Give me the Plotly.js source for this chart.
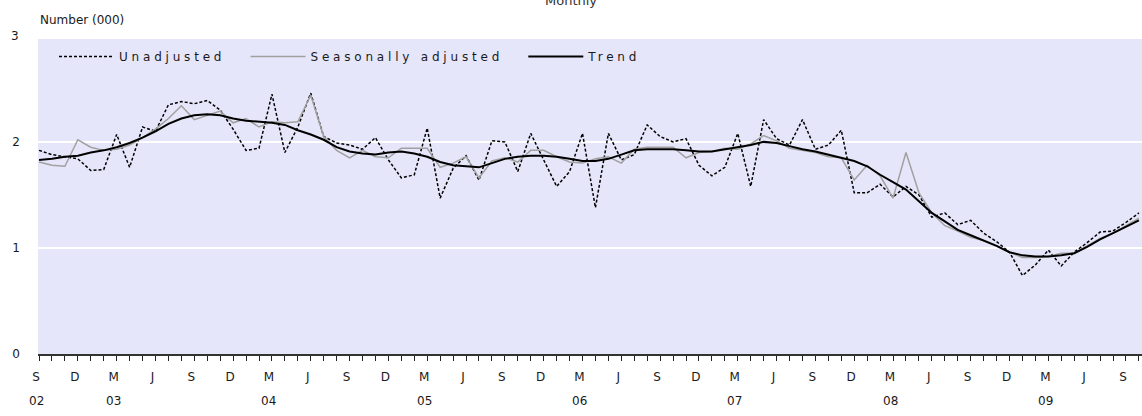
<!DOCTYPE html>
<html>
<head>
<meta charset="utf-8">
<script src="https://cdn.plot.ly/plotly-3.0.1.min.js"></script>
<style>
  html, body { margin: 0; padding: 0; background: #fff; }
  #chart { width: 1142px; height: 416px; }
  .legendtext { letter-spacing: 3.8px; }
</style>
</head>
<body>
<div id="chart"></div>
<script>
// Categories: monthly, Sep 2002 .. Oct 2009
const firstYear = 2002, firstMonth = 9, monthCount = 86;
const months = [];
for (let k = 0; k < monthCount; k++) {
  const m0 = firstMonth - 1 + k;
  const y = firstYear + Math.floor(m0 / 12);
  const m = (m0 % 12) + 1;
  months.push(y + '-' + String(m).padStart(2, '0'));
}

// Series (number, thousands)
const unadjusted = [
  1.92, 1.88, 1.86, 1.84, 1.73, 1.74, 2.07, 1.76, 2.14, 2.10,
  2.35, 2.38, 2.36, 2.39, 2.30, 2.12, 1.92, 1.94, 2.45, 1.90,
  2.14, 2.46, 2.05, 1.99, 1.97, 1.93, 2.04, 1.83, 1.66, 1.69,
  2.13, 1.47, 1.75, 1.87, 1.64, 2.01, 2.00, 1.72, 2.08, 1.83,
  1.58, 1.72, 2.08, 1.38, 2.08, 1.83, 1.88, 2.16, 2.05, 2.00,
  2.03, 1.78, 1.68, 1.76, 2.08, 1.58, 2.21, 2.03, 1.97, 2.21,
  1.93, 1.97, 2.11, 1.52, 1.52, 1.60, 1.48, 1.58, 1.50, 1.29,
  1.33, 1.22, 1.26, 1.14, 1.06, 0.96, 0.74, 0.84, 0.98, 0.83,
  0.96, 1.05, 1.15, 1.16, 1.24, 1.33
];
const seasonallyAdjusted = [
  1.81, 1.78, 1.77, 2.02, 1.95, 1.92, 1.93, 1.97, 2.04, 2.12,
  2.22, 2.34, 2.21, 2.25, 2.29, 2.18, 2.22, 2.14, 2.19, 2.18,
  2.19, 2.44, 2.05, 1.92, 1.85, 1.92, 1.86, 1.85, 1.94, 1.94,
  1.94, 1.76, 1.80, 1.86, 1.66, 1.82, 1.85, 1.81, 1.92, 1.92,
  1.86, 1.81, 1.80, 1.84, 1.86, 1.80, 1.93, 1.95, 1.95, 1.95,
  1.85, 1.90, 1.91, 1.94, 1.93, 1.98, 2.06, 2.01, 1.94, 1.92,
  1.90, 1.86, 1.85, 1.64, 1.78, 1.68, 1.47, 1.90, 1.52, 1.33,
  1.21, 1.16, 1.10, 1.07, 1.02, 0.96, 0.91, 0.91, 0.92, 0.95,
  0.95, 1.02, 1.09, 1.14, 1.21, 1.28
];
const trend = [
  1.83, 1.84, 1.86, 1.87, 1.90, 1.92, 1.95, 1.99, 2.04, 2.10,
  2.17, 2.22, 2.25, 2.26, 2.25, 2.22, 2.20, 2.19, 2.18, 2.16,
  2.11, 2.07, 2.02, 1.95, 1.91, 1.89, 1.88, 1.90, 1.91, 1.89,
  1.86, 1.81, 1.78, 1.77, 1.76, 1.80, 1.84, 1.86, 1.87, 1.87,
  1.86, 1.84, 1.82, 1.82, 1.84, 1.88, 1.92, 1.93, 1.93, 1.93,
  1.92, 1.91, 1.91, 1.93, 1.95, 1.97, 2.00, 1.99, 1.96, 1.93,
  1.91, 1.88, 1.85, 1.82, 1.77, 1.69, 1.62, 1.55, 1.44, 1.33,
  1.25, 1.17, 1.12, 1.07, 1.02, 0.96, 0.93, 0.92, 0.92, 0.93,
  0.95, 1.01, 1.08, 1.14, 1.20, 1.26
];

// Tick labels
const monthLetters = { '09': 'S', '12': 'D', '03': 'M', '06': 'J' };
const yearLabelMonths = ['2002-09', '2003-03', '2004-03', '2005-03', '2006-03', '2007-03', '2008-03', '2009-03'];
const yearLabels = ['02', '03', '04', '05', '06', '07', '08', '09'];
const yTickVals = [0, 1, 2];
const yTickText = ['0', '1', '2'];
const yTopLabel = '3';
const seriesNames = ['Unadjusted', 'Seasonally adjusted', 'Trend'];

const tickText = months.map(m => monthLetters[m.slice(5)] || '');

const FONT = 'DejaVu Sans, Liberation Sans, sans-serif';
const TXT = '#1a1a1a';
const PAD = '\u00a0\u00a0';
const Y_MAX = 2.97;

const traces = [
  { x: months, y: unadjusted, name: seriesNames[0] + PAD, type: 'scatter', mode: 'lines',
    line: { color: '#000000', width: 1.5, dash: '3px,2px' } },
  { x: months, y: seasonallyAdjusted, name: seriesNames[1] + PAD, type: 'scatter', mode: 'lines',
    line: { color: '#a0a0a0', width: 1.5 } },
  { x: months, y: trend, name: seriesNames[2], type: 'scatter', mode: 'lines',
    line: { color: '#000000', width: 2 } }
];

const annotations = yearLabelMonths.map((m, k) => ({
  x: m, xref: 'x', y: 0, yref: 'paper', text: yearLabels[k], showarrow: false,
  xanchor: 'center', yanchor: 'middle', yshift: -47, xshift: -3,
  font: { family: FONT, size: 12, color: TXT }
}));
annotations.push({
  x: 0, xref: 'paper', y: 1, yref: 'paper', text: 'Number (000)', showarrow: false,
  xanchor: 'left', yanchor: 'middle', xshift: 0, yshift: 19,
  font: { family: FONT, size: 12, color: TXT }
});
annotations.push({
  x: 0, xref: 'paper', y: 3 / Y_MAX, yref: 'paper', text: yTopLabel, showarrow: false,
  xanchor: 'center', yanchor: 'middle', xshift: -23,
  font: { family: FONT, size: 12, color: TXT }
});

const layout = {
  width: 1142, height: 416,
  margin: { l: 38, r: 0, t: 39, b: 62, pad: 0 },
  paper_bgcolor: '#ffffff',
  plot_bgcolor: '#e6e6fa',
  title: { text: 'Monthly', x: 0.5, xref: 'container', xanchor: 'center', y: 1.0, yref: 'container', yanchor: 'middle',
           font: { family: FONT, size: 13, color: '#333' } },
  showlegend: true,
  legend: { orientation: 'h', x: 16 / 1104, xanchor: 'left', y: 1 - 3 / 315, yanchor: 'top', bgcolor: 'rgba(0,0,0,0)',
            font: { family: FONT, size: 12, color: TXT }, itemwidth: 55, traceorder: 'normal' },
  xaxis: {
    type: 'category', range: [-0.08, 85.24], tickmode: 'array', tickvals: months, ticktext: tickText,
    ticks: 'outside', ticklen: 5, tickwidth: 1, tickcolor: '#222', showline: true, linecolor: '#333', linewidth: 1.5,
    showgrid: false, zeroline: false, tickangle: 0, ticklabelstandoff: 6, ticklabelshift: -3,
    tickfont: { family: FONT, size: 12, color: TXT }, fixedrange: true
  },
  yaxis: {
    range: [0, Y_MAX], tickmode: 'array', tickvals: yTickVals, ticktext: yTickText,
    showgrid: true, gridcolor: '#ffffff', gridwidth: 2, zeroline: false, showline: false, ticks: '',
    ticklabelstandoff: 17, tickfont: { family: FONT, size: 12, color: TXT }, fixedrange: true
  },
  annotations: annotations
};

Plotly.newPlot('chart', traces, layout, { displayModeBar: false, staticPlot: true });
</script>
</body>
</html>
